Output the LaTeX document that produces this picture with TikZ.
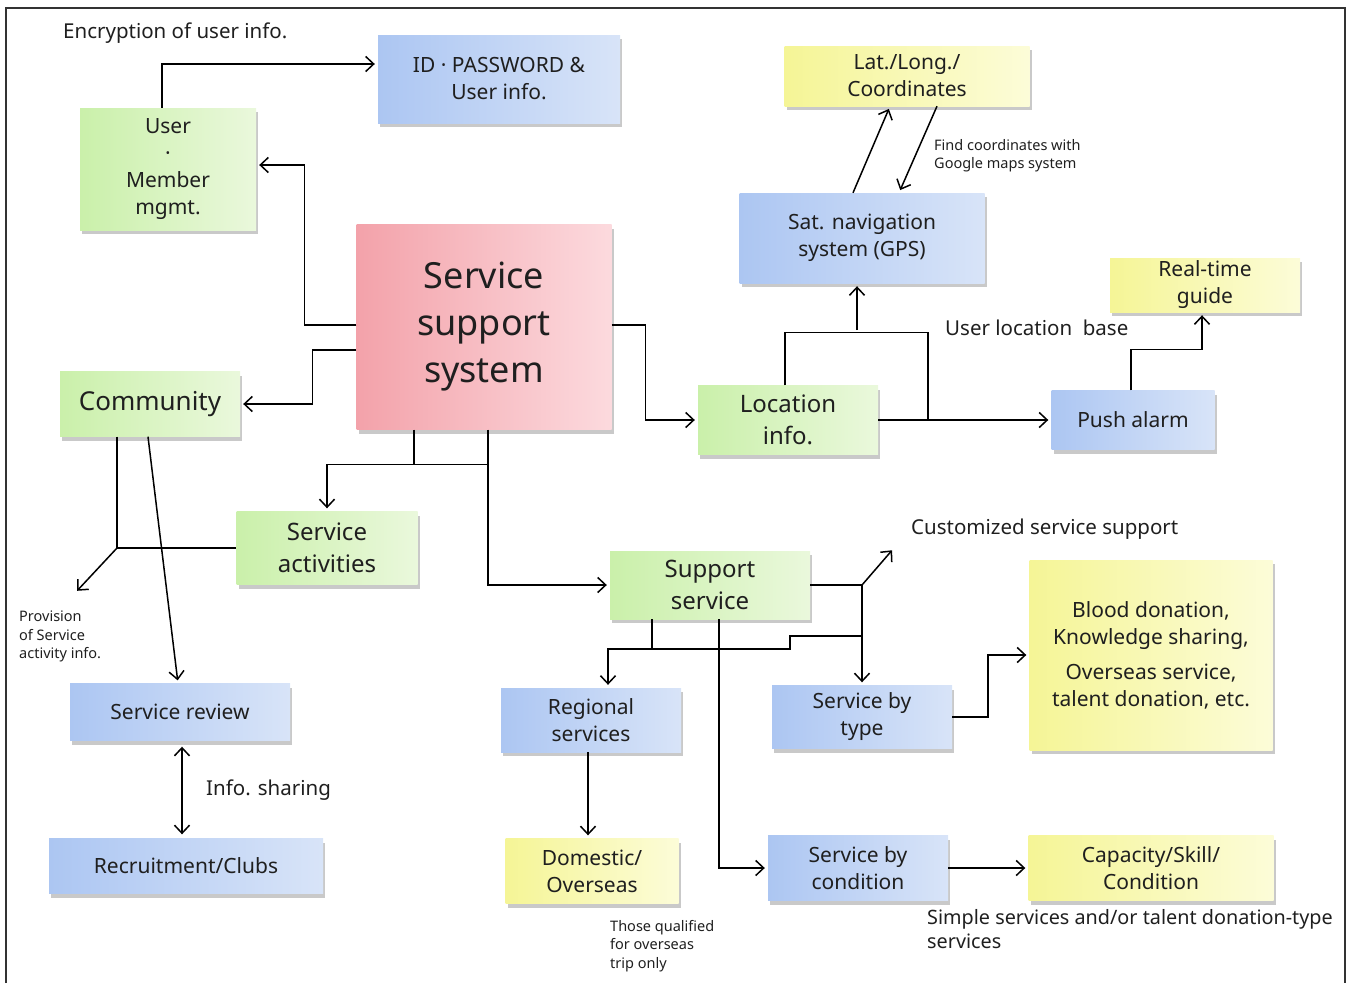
\documentclass[tikz,border=0pt]{standalone}
\usepackage{fontspec}
\setmainfont{Noto Sans}
\usetikzlibrary{arrows.meta,shadows,positioning}

\definecolor{grnL}{RGB}{202,240,170}
\definecolor{grnR}{RGB}{234,248,220}
\definecolor{bluL}{RGB}{172,198,242}
\definecolor{bluR}{RGB}{216,228,248}
\definecolor{redL}{RGB}{243,162,170}
\definecolor{redR}{RGB}{252,218,222}
\definecolor{yelL}{RGB}{245,245,150}
\definecolor{yelR}{RGB}{252,252,216}

\newcommand\ttlfont{\fontsize{36}{47}\selectfont}
\newcommand\grnfont{\fontsize{24}{32}\selectfont}
\newcommand\blufont{\fontsize{21}{27}\selectfont}
\newcommand\notefont{\fontsize{20.5}{24}\selectfont}
\newcommand\smallnote{\fontsize{14.5}{18.5}\selectfont}

\begin{document}
\begin{tikzpicture}[
    x=1pt, y=-1pt,
    box/.style={rectangle, inner sep=2pt, align=center, text=black!88,
        drop shadow={shadow xshift=2pt, shadow yshift=-4pt, opacity=.3, fill=black!70}},
    greenbox/.style={box, left color=grnL, right color=grnR, font=\grnfont},
    bluebox/.style={box, left color=bluL, right color=bluR, font=\blufont},
    yellowbox/.style={box, left color=yelL, right color=yelR, font=\blufont},
    redbox/.style={box, left color=redL, right color=redR, font=\ttlfont},
    note/.style={inner sep=0pt, text=black!88, align=left},
    wire/.style={line width=1.5pt},
    arr/.style={wire, -{Straight Barb[length=8pt, width=15pt]}, shorten >=3pt},
    arr2/.style={wire, {Straight Barb[length=8pt, width=15pt]}-{Straight Barb[length=8pt, width=15pt]}, shorten >=4pt, shorten <=6pt}
]
    \useasboundingbox (0,0) rectangle (1348,983);
    \draw[line width=2pt, black!80] (6,983) -- (6,8) -- (1345,8) -- (1345,983);

    % main system
    \node [redbox, minimum width=255pt, minimum height=205pt] (sss) at (484,327) {Service\\support\\system};

    % user side
    \node [bluebox, minimum width=242pt, minimum height=88pt] (idpw) at (499,79) {ID · PASSWORD \&\\User info.};
    \node [greenbox, font=\blufont, minimum width=176pt, minimum height=122pt] (user) at (168,169) {User\\·\\Member\\mgmt.};

    % location side
    \node [yellowbox, minimum width=245pt, minimum height=60pt] (latlong) at (907,76) {Lat./Long./\\Coordinates};
    \node [bluebox, minimum width=245pt, minimum height=90pt] (gps) at (862,238) {Sat. navigation\\system (GPS)};
    \node [yellowbox, minimum width=190pt, minimum height=54pt] (realtime) at (1205,285) {Real-time\\guide};
    \node [greenbox, minimum width=180pt, minimum height=69pt] (location) at (788,420) {Location\\info.};
    \node [bluebox, minimum width=163pt, minimum height=59pt] (push) at (1133,420) {Push alarm};

    % community side
    \node [greenbox, font=\fontsize{26}{32}\selectfont, minimum width=180pt, minimum height=65pt] (community) at (150,404) {Community};
    \node [greenbox, minimum width=181pt, minimum height=73pt] (activities) at (327,548) {Service\\activities};
    \node [bluebox, minimum width=220pt, minimum height=57pt] (review) at (180,712) {Service review};
    \node [bluebox, minimum width=274pt, minimum height=55pt] (recruit) at (186,866) {Recruitment/Clubs};

    % support side
    \node [greenbox, minimum width=200pt, minimum height=68pt] (support) at (710,585) {Support\\service};
    \node [yellowbox, minimum width=243pt, minimum height=190pt] (blood) at (1151,655) {Blood donation,\\Knowledge sharing,\\[8pt]Overseas service,\\talent donation, etc.};
    \node [bluebox, minimum width=180pt, minimum height=64pt] (regional) at (591,720) {Regional\\services};
    \node [bluebox, minimum width=180pt, minimum height=63pt] (bytype) at (862,717) {Service by\\type};
    \node [yellowbox, minimum width=173pt, minimum height=65pt] (domestic) at (592,871) {Domestic/\\Overseas};
    \node [bluebox, minimum width=180pt, minimum height=65pt] (bycond) at (858,868) {Service by\\condition};
    \node [yellowbox, minimum width=245pt, minimum height=65pt] (capacity) at (1151,868) {Capacity/Skill/\\Condition};

    % notes
    \node [note, font=\notefont, anchor=west] (enc) at (63,33) {Encryption of user info.};
    \node [note, font=\smallnote, anchor=north west] (findnote) at (934,139) {Find coordinates with\\Google maps system};
    \node [note, font=\notefont, anchor=west] (userloc) at (945,328) {User location\ \ base};
    \node [note, font=\notefont, anchor=west] (custom) at (911,529) {Customized service support};
    \node [note, font=\smallnote, anchor=north west] (provnote) at (19,611) {Provision\\of Service\\activity info.};
    \node [note, font=\notefont, anchor=west] (infoshare) at (206,790) {Info. sharing};
    \node [note, font=\smallnote, anchor=north west] (qualnote) at (610,920) {Those qualified\\for overseas\\trip only};
    \node [note, font=\fontsize{19.8}{24}\selectfont, anchor=north west] (simplenote) at (927,909) {Simple services and/or talent donation-type\\services};

    \coordinate (prov) at (75,593);
    \coordinate (cust) at (894,548);

    % connectors
    \draw [arr] ([xshift=-6pt]user.north) |- ([yshift=15pt]idpw.west);
    \draw [arr] ([yshift=2pt]sss.west) -- ++(-52,0) |- ([yshift=4pt]user.east);
    \draw [arr] ([yshift=-23pt]sss.west) -- ++(-44,0) |- (community.east);
    \draw [wire] ([xshift=-70pt]sss.south) -- ++(0,35);
    \draw [arr] ([xshift=4pt]sss.south) ++(0,35) -| (activities.north);
    \draw [arr] ([xshift=4pt]sss.south) |- (support.west);
    \draw [arr] ([yshift=2pt]sss.east) -- ++(34,0) |- (location.west);

    \draw [wire] ([xshift=-3pt]location.north) -- ++(0,-53) -| (location.east -| 928,0);
    \draw [arr] ([xshift=-5pt]gps.south |- 0,330) -- ([xshift=-5pt]gps.south);
    \draw [arr] (location.east) -- (push.west);
    \draw [arr] ([xshift=-2pt]push.north) -- ++(0,-41) -| ([xshift=-3pt]realtime.south);
    \draw [arr] ([xshift=-9pt]gps.north) -- ([xshift=-17pt]latlong.south);
    \draw [arr] ([xshift=30pt]latlong.south) -- ([xshift=37pt]gps.north);

    \draw [wire] ([xshift=-33pt]community.south) |- (activities.west);
    \draw [arr] ([xshift=-33pt]community.south |- activities.west) -- (prov);
    \draw [arr] ([xshift=-2pt]community.south) -- ([xshift=-2pt]review.north);
    \draw [arr2] ([xshift=2pt]review.south) -- ([xshift=-4pt]recruit.north);

    \draw [arr] (support.east) -| (bytype.north);
    \draw [arr] (support.east -| bytype.north) -- (cust);
    \draw [arr] ([xshift=-58pt]support.south) -- ++(0,30) -| ([xshift=17pt]regional.north);
    \draw [wire] ([xshift=-58pt]support.south) ++(0,30) -- ++(138,0) |- (bytype.north |- 0,636);
    \draw [arr] ([xshift=9pt]support.south) |- (bycond.west);
    \draw [arr] ([xshift=-3pt]regional.south) -- ([xshift=-4pt]domestic.north);
    \draw [arr] (bytype.east) -- ++(36,0) |- (blood.west);
    \draw [arr] (bycond.east) -- (capacity.west);

\end{tikzpicture}
\end{document}
